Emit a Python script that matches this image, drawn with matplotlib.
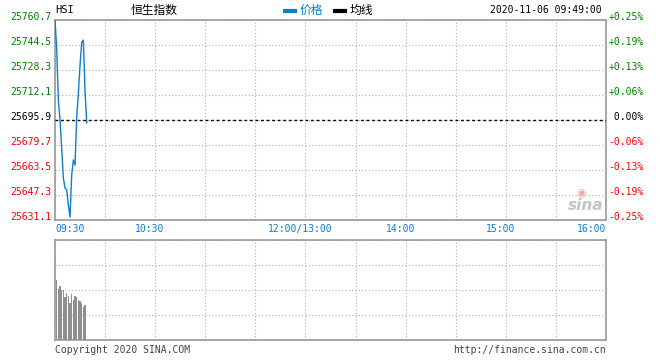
"""
HSI intraday minute chart (sina style), 2020-11-06 09:49
"""
import matplotlib.pyplot as plt
from matplotlib.lines import Line2D
from matplotlib.transforms import ScaledTranslation, blended_transform_factory

plt.rcParams['font.family'] = ['DejaVu Sans Mono', 'Noto Sans CJK SC']

prev_close = 25695.9
price_ticks = [25631.1, 25647.3, 25663.5, 25679.7, 25695.9, 25712.1, 25728.3, 25744.5, 25760.7]

# minutes since 09:30
minutes = list(range(20))
price = [25760.7, 25742.6, 25708.9, 25695.9, 25677.8, 25658.3, 25651.8, 25650.5, 25640.8, 25633.0,
         25660.3, 25670.0, 25666.7, 25697.8, 25713.4, 25731.5, 25746.4, 25747.7, 25714.0, 25694.0]

vol_minutes = list(range(1, 19))
volume = [60, 51, 54, 50, 50, 42.7, 47.3, 44, 36.7, 45.7, 40, 44, 43.3, 40, 39, 37.3, 33.3, 35]

time_pos = [0, 60, 150, 210, 270, 330]
time_labels = ["09:30", "10:30", "12:00/13:00", "14:00", "15:00", "16:00"]

GREEN = "#008000"
RED = "#ff0000"
BLUE = "#0a7fd0"
FRAME = "#999999"
GRID = "#b0b0b0"
FS = 7

fig = plt.figure(figsize=(6.6, 3.6), dpi=100)
ax = fig.add_axes([55 / 660, 140 / 360, 551 / 660, 200 / 360])
axv = fig.add_axes([55 / 660, 20 / 360, 551 / 660, 100 / 360])

for a in (ax, axv):
    a.set_xlim(0, 330)
    a.set_xticks(range(0, 331, 30))
    a.tick_params(length=0, labelbottom=False, labelleft=False)
    a.grid(True, color=GRID, linestyle=(0, (1, 2)), linewidth=0.8)
    for s in a.spines.values():
        s.set_color(FRAME)
        s.set_linewidth(1.2)

ax.set_ylim(price_ticks[0], price_ticks[-1])
ax.set_yticks(price_ticks)
ax.axhline(prev_close, color="black", linestyle=(0, (2, 2)), linewidth=1, zorder=3)
ax.plot(minutes, price, color=BLUE, linewidth=1.0, zorder=4)

axv.set_ylim(0, 100)
axv.set_yticks([0, 25, 50, 75, 100])
axv.bar(vol_minutes, volume, width=0.7, color="#8f8f8f", linewidth=0, zorder=3)

# price / percent labels
left_tr = blended_transform_factory(fig.transFigure, ax.transData)
for p in price_ticks:
    c = GREEN if p > prev_close + 0.01 else (RED if p < prev_close - 0.01 else "black")
    pct = (p - prev_close) / prev_close * 100
    pl = " 0.00%" if abs(pct) < 0.005 else "%+.2f%%" % pct
    ax.text(51 / 660, p, "%.1f" % p, transform=left_tr + ScaledTranslation(0, 2 / 72, fig.dpi_scale_trans),
            ha="right", va="center", color=c, fontsize=FS)
    ax.text(1.004, p, pl,
            transform=ax.get_yaxis_transform() + ScaledTranslation(0, 2 / 72, fig.dpi_scale_trans),
            ha="left", va="center", color=c, fontsize=FS)

# time labels
for i, (t, lab) in enumerate(zip(time_pos, time_labels)):
    ha = "left" if i == 0 else ("right" if i == len(time_pos) - 1 else "center")
    off = 0 if i == 0 or i == len(time_pos) - 1 else -4 / 72
    ax.text(t, -0.02, lab, transform=ax.get_xaxis_transform() + ScaledTranslation(off, 0, fig.dpi_scale_trans),
            ha=ha, va="top", color=BLUE, fontsize=FS)

# header
fig.text(55 / 660, 1 - 10 / 360, "HSI", ha="left", va="center", fontsize=FS + 0.5)
fig.text(131 / 660, 1 - 10 / 360, "恒生指数", ha="left", va="center", fontsize=8.5,
         family=['Noto Sans CJK SC', 'DejaVu Sans'])
fig.add_artist(Line2D([285 / 660, 295 / 660], [1 - 11 / 360] * 2, color=BLUE, linewidth=3))
fig.text(300 / 660, 1 - 10 / 360, "价格", ha="left", va="center", fontsize=8.5, color=BLUE,
         family=['Noto Sans CJK SC', 'DejaVu Sans'])
fig.add_artist(Line2D([335 / 660, 345 / 660], [1 - 11 / 360] * 2, color="black", linewidth=3))
fig.text(350 / 660, 1 - 10 / 360, "均线", ha="left", va="center", fontsize=8.5,
         family=['Noto Sans CJK SC', 'DejaVu Sans'])
fig.text(602 / 660, 1 - 10 / 360, "2020-11-06 09:49:00", ha="right", va="center", fontsize=FS)

# watermark
ax.text(0.955, 0.135, "◉", transform=ax.transAxes, ha="center", va="center", fontsize=8,
        color="#f2aaaa", family="DejaVu Sans")
ax.text(0.995, 0.075, "sina", transform=ax.transAxes, ha="right", va="center", fontsize=11,
        color="#c4c4c4", style="italic", fontweight="bold", family="DejaVu Sans")

# footer
fig.text(55 / 660, 1 - 350 / 360, "Copyright 2020 SINA.COM", ha="left", va="center", fontsize=FS, color="#444444")
fig.text(606 / 660, 1 - 350 / 360, "http://finance.sina.com.cn", ha="right", va="center", fontsize=FS,
         color="#444444")

fig.savefig("out.png", dpi=100)
